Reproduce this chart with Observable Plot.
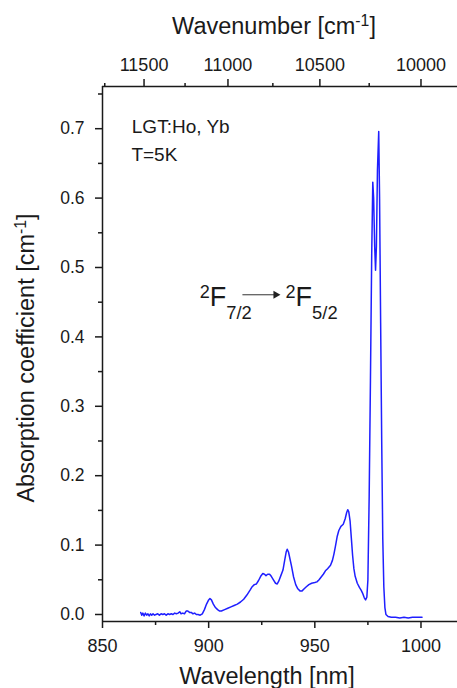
<!DOCTYPE html>
<html><head><meta charset="utf-8">
<script src="https://cdn.jsdelivr.net/npm/d3@7"></script>
<script src="https://cdn.jsdelivr.net/npm/@observablehq/plot@0.6"></script>
<style>body{margin:0;background:#fff} svg{display:block}</style>
</head><body><div id="chart"></div>
<script>
// ---- data ----
const wavelength = [
  868.0,868.5,869.0,869.6,870.2,870.8,871.4,872.0,872.6,873.2,873.8,874.5,875.2,876.0,876.8,877.6,878.4,879.2,880.0,880.8,
  881.6,882.4,883.2,884.0,884.8,885.6,886.4,887.0,887.8,888.6,889.4,890.2,891.0,891.8,892.6,893.4,894.2,895.0,896.0,897.0,
  898.0,899.0,900.0,900.6,901.3,902.2,903.2,904.2,905.2,906.0,907.5,909.0,910.5,912.0,913.5,915.0,916.5,918.0,919.5,920.5,
  921.5,922.5,923.5,924.5,925.5,926.3,927.0,927.8,928.7,929.5,930.5,931.5,932.3,933.0,934.0,935.0,935.8,936.5,937.0,937.6,
  938.3,939.0,940.0,941.0,942.0,943.0,944.0,945.0,946.0,947.2,948.5,950.0,951.0,952.0,953.0,954.0,955.0,956.0,957.4,958.3,
  959.0,959.7,960.5,961.3,962.3,963.4,964.3,965.0,965.5,966.0,966.6,967.2,967.8,968.4,969.0,970.0,971.0,971.8,972.6,973.3,
  973.9,974.5,975.0,975.6,976.2,976.8,977.3,977.7,978.2,978.6,979.0,979.5,980.1,980.5,981.0,981.5,982.0,982.5,983.0,983.5,
  984.5,986.0,988.0,990.0,992.0,994.0,996.0,998.0,1000.5
];
const absorption = [
  0.003,-0.001,0.002,-0.002,0.002,-0.001,0.001,-0.002,0.001,-0.001,0.001,-0.001,0.000,0.001,-0.001,0.001,0.000,0.001,-0.001,0.001,
  0.000,0.001,0.000,0.002,0.001,0.002,0.004,0.001,0.002,0.001,0.005,0.005,0.003,0.003,0.001,0.002,0.000,0.000,-0.001,0.001,
  0.007,0.015,0.021,0.023,0.021,0.015,0.010,0.007,0.005,0.005,0.007,0.009,0.011,0.013,0.015,0.018,0.022,0.028,0.035,0.040,
  0.043,0.044,0.049,0.055,0.059,0.058,0.056,0.058,0.058,0.055,0.050,0.045,0.044,0.048,0.056,0.064,0.078,0.090,0.094,0.090,
  0.080,0.070,0.054,0.043,0.037,0.034,0.034,0.037,0.040,0.043,0.045,0.046,0.047,0.050,0.054,0.058,0.063,0.066,0.071,0.078,
  0.087,0.098,0.112,0.121,0.127,0.130,0.138,0.147,0.151,0.148,0.135,0.110,0.085,0.066,0.055,0.045,0.039,0.035,0.030,0.024,
  0.021,0.025,0.050,0.170,0.337,0.520,0.623,0.600,0.530,0.496,0.530,0.640,0.696,0.600,0.420,0.250,0.110,0.040,0.010,0.000,
  -0.003,-0.004,-0.004,-0.005,-0.004,-0.005,-0.004,-0.004,-0.004
];
const xTicks = [850, 900, 950, 1000];
const xMinor = [875, 925, 975];
const wnTicks = [11500, 11000, 10500, 10000];
const wnMinor = [11750, 11250, 10750, 10250];
const yTicks = [0, 0.1, 0.2, 0.3, 0.4, 0.5, 0.6, 0.7];
const yMinor = [0.05, 0.15, 0.25, 0.35, 0.45, 0.55, 0.65, 0.75];
const xDomain = [850, 1017.2];
const yDomain = [-0.0101, 0.7608];

const xTitle = "Wavelength [nm]";
const topTitle = "Wavenumber [cm^{-1}]";
const yTitle = "Absorption coefficient [cm^{-1}]";
const notes = ["LGT:Ho, Yb", "T=5K"];
const notesX = [863.8, 863.6];
const notesY = [0.6945, 0.654];
const levels = ["^{2}F_{7/2}", "^{2}F_{5/2}"];
const levelsX = [895.8, 936.2];
const levelsY = [0.4438, 0.4438];
const arrowX = [915.9, 931.6];
const arrowY = 0.4607;

const data = wavelength.map((w, i) => ({w, a: absorption[i]}));
const INK = "#1a1a1a";
const FONT = "'Liberation Sans', Arial, sans-serif";

const plot = Plot.plot({
  width: 457, height: 688,
  marginLeft: 102, marginRight: 0, marginTop: 86, marginBottom: 67,
  style: {fontFamily: FONT, background: "#fff", color: INK},
  x: {domain: xDomain, label: null},
  y: {domain: yDomain, label: null},
  marks: [
    // frame (left, bottom, top)
    Plot.ruleX([xDomain[0]], {stroke: INK, strokeWidth: 1.5}),
    Plot.ruleY(yDomain, {stroke: INK, strokeWidth: 1.5}),
    // bottom axis
    Plot.axisX({anchor: "bottom", ticks: xTicks, tickFormat: d => String(d), tickSize: 7, tickPadding: 11, fontSize: 18, strokeWidth: 1.5, stroke: INK, fill: INK}),
    Plot.axisX({anchor: "bottom", ticks: xMinor, tickSize: 4, tickFormat: () => "", strokeWidth: 1.5, stroke: INK}),
    // top axis (wavenumber)
    Plot.axisX({anchor: "top", ticks: wnTicks.map(k => 1e7 / k), tickFormat: d => String(Math.round(1e7 / d)), tickSize: 8, tickPadding: 8, fontSize: 18, strokeWidth: 1.5, stroke: INK, fill: INK}),
    Plot.axisX({anchor: "top", ticks: wnMinor.map(k => 1e7 / k), tickSize: 4, tickFormat: () => "", strokeWidth: 1.5, stroke: INK}),
    // left axis
    Plot.axisY({anchor: "left", ticks: yTicks, tickFormat: ".1f", tickSize: 7, tickPadding: 11, fontSize: 17.5, strokeWidth: 1.5, stroke: INK, fill: INK}),
    Plot.axisY({anchor: "left", ticks: yMinor, tickSize: 4, tickFormat: () => "", strokeWidth: 1.5, stroke: INK}),
    // spectrum
    Plot.line(data, {x: "w", y: "a", stroke: "#1f1fff", strokeWidth: 1.5, curve: "linear"}),
    // axis titles
    Plot.text([xTitle], {frameAnchor: "bottom", dx: -13, dy: 62, textAnchor: "middle", lineAnchor: "bottom", fontSize: 23.5, fill: INK}),
    Plot.text([topTitle], {frameAnchor: "top", dx: -6, dy: -53, textAnchor: "middle", lineAnchor: "bottom", fontSize: 23.5, fill: INK}),
    Plot.text([yTitle], {frameAnchor: "left", dx: -69, dy: 4, rotate: -90, textAnchor: "middle", lineAnchor: "bottom", fontSize: 23.5, fill: INK}),
    // annotations
    Plot.text(notes, {x: (d, i) => notesX[i], y: (d, i) => notesY[i], text: d => d, textAnchor: "start", lineAnchor: "bottom", fontSize: 19, fill: INK}),
    Plot.text(levels, {x: (d, i) => levelsX[i], y: (d, i) => levelsY[i], text: d => d, textAnchor: "start", lineAnchor: "bottom", fontSize: 27, fill: INK}),
    Plot.link([0], {x1: arrowX[0], x2: arrowX[1] - 0.3, y1: arrowY, y2: arrowY, stroke: "#333", strokeWidth: 1}),
    Plot.dot([0], {x: arrowX[1], y: arrowY, symbol: "triangle", r: 3, rotate: 90, fill: "#222", stroke: "none"})
  ]
});
document.getElementById("chart").appendChild(plot);

// superscripts / subscripts written as ^{..} and _{..}
function richify(svg) {
  svg.querySelectorAll("text").forEach(el => {
    const s = el.textContent;
    if (!/[\^_]\{/.test(s)) return;
    const fs = parseFloat(getComputedStyle(el).fontSize) || 16;
    const parts = s.split(/(\^\{[^}]*\}|_\{[^}]*\})/).filter(p => p.length);
    while (el.firstChild) el.removeChild(el.firstChild);
    let offset = 0;
    for (const p of parts) {
      const t = document.createElementNS("http://www.w3.org/2000/svg", "tspan");
      let target = 0, size = null, txt = p;
      if (p.startsWith("^{")) { target = -0.33 * fs; size = 0.67 * fs; txt = p.slice(2, -1); }
      else if (p.startsWith("_{")) { target = 0.45 * fs; size = 0.68 * fs; txt = p.slice(2, -1); }
      t.setAttribute("dy", (target - offset).toFixed(2));
      offset = target;
      if (size) t.setAttribute("font-size", size.toFixed(2));
      t.textContent = txt;
      el.appendChild(t);
    }
  });
}
richify(plot);
</script>
</body></html>
